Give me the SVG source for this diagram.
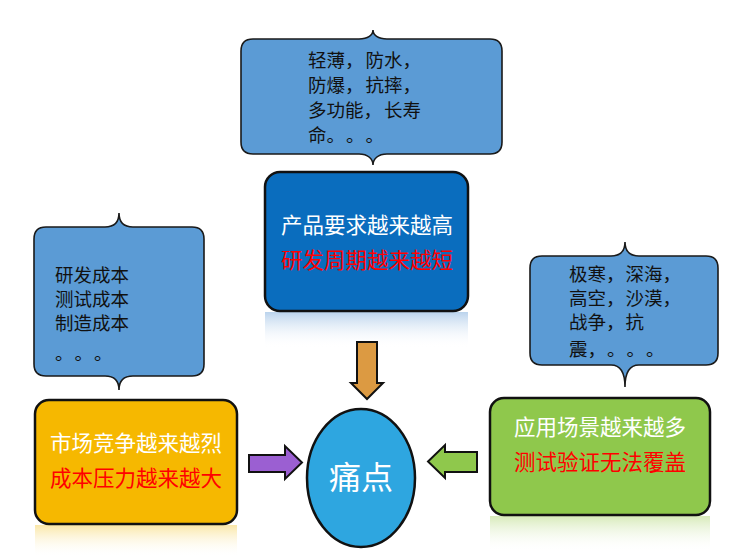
<svg xmlns="http://www.w3.org/2000/svg" width="747" height="557" viewBox="0 0 747 557">
<defs>
<style>
.callout{fill:#5B9BD5;stroke:#1a1a1a;stroke-width:1.6}
.ctext{font-family:"Noto Sans CJK SC","Noto Sans",sans-serif;font-size:18.5px;fill:#111;text-spacing-trim:space-all}
.box{stroke:#111;stroke-width:2.5}
.title{font-family:"Noto Sans CJK SC","Noto Sans",sans-serif;font-size:21.5px;text-anchor:middle}
.w{fill:#fff}
.r{fill:#ff0000}
.arrow{stroke:#111;stroke-width:2;stroke-linejoin:miter}
</style>
<linearGradient id="refBlue" x1="0" y1="0" x2="0" y2="1">
<stop offset="0" stop-color="#A9C8E8" stop-opacity="0.8"/>
<stop offset="1" stop-color="#ffffff" stop-opacity="0"/>
</linearGradient>
<linearGradient id="refYellow" x1="0" y1="0" x2="0" y2="1">
<stop offset="0" stop-color="#F8DC80" stop-opacity="0.7"/>
<stop offset="1" stop-color="#ffffff" stop-opacity="0"/>
</linearGradient>
<linearGradient id="refGreen" x1="0" y1="0" x2="0" y2="1">
<stop offset="0" stop-color="#CDE5A8" stop-opacity="0.8"/>
<stop offset="1" stop-color="#ffffff" stop-opacity="0"/>
</linearGradient>
</defs>
<rect width="747" height="557" fill="#fff"/>

<g id="callout-top">
<path class="callout" d="M253,39 L359,39 C368,39 373,35 373,30 C373,35 378,39 387,39 L490,39 Q502,39 502,51 L502,142 Q502,154 490,154 L387,154 C378,154 373,159 373,165 C373,159 368,154 359,154 L253,154 Q241,154 241,142 L241,51 Q241,39 253,39 Z"/>
<text class="ctext" x="308" y="67">轻薄，<tspan dx="2">防水，</tspan></text>
<text class="ctext" x="308" y="92">防爆，<tspan dx="2">抗摔，</tspan></text>
<text class="ctext" x="308" y="117">多功能，<tspan dx="2">长寿</tspan></text>
<text class="ctext" x="308" y="142">命。<tspan dx="1">。</tspan><tspan dx="1">。</tspan></text>
</g>

<g id="callout-left">
<path class="callout" d="M46,227 L105,227 C114,227 119,222 119,213 C119,222 124,227 133,227 L192,227 Q204,227 204,239 L204,364 Q204,376 192,376 L133,376 C124,376 119,381 119,390 C119,381 114,376 105,376 L46,376 Q34,376 34,364 L34,239 Q34,227 46,227 Z"/>
<text class="ctext" x="55" y="282">研发成本</text>
<text class="ctext" x="55" y="306">测试成本</text>
<text class="ctext" x="55" y="330">制造成本</text>
<text class="ctext" x="55" y="360">。<tspan dx="1">。</tspan><tspan dx="1">。</tspan></text>
</g>

<g id="callout-right">
<path class="callout" d="M542,256 L611,256 C620,256 625,251 625,242 C625,251 630,256 639,256 L706,256 Q718,256 718,268 L718,353 Q718,365 706,365 L639,365 C630,365 625,371 625,387 C625,371 620,365 611,365 L542,365 Q530,365 530,353 L530,268 Q530,256 542,256 Z"/>
<text class="ctext" x="569" y="281">极寒，<tspan dx="1">深海，</tspan></text>
<text class="ctext" x="569" y="305">高空，<tspan dx="1">沙漠，</tspan></text>
<text class="ctext" x="569" y="329">战争，<tspan dx="1">抗</tspan></text>
<text class="ctext" x="569" y="356">震，<tspan dx="1">。</tspan><tspan dx="1">。</tspan><tspan dx="1">。</tspan></text>
</g>

<g id="box-top">
<rect x="265" y="312" width="203" height="36" fill="url(#refBlue)"/>
<rect class="box" x="265" y="172" width="203" height="139" rx="15" fill="#0A6DBE"/>
<text class="title w" x="367" y="233">产品要求越来越高</text>
<text class="title r" x="367" y="268">研发周期越来越短</text>
</g>

<g id="box-left">
<rect x="35" y="525" width="202" height="32" fill="url(#refYellow)"/>
<rect class="box" x="35" y="400" width="202" height="124" rx="14" fill="#F6B800"/>
<text class="title w" x="136" y="451">市场竞争越来越烈</text>
<text class="title r" x="136" y="486">成本压力越来越大</text>
</g>

<g id="box-right">
<rect x="490" y="516" width="220" height="36" fill="url(#refGreen)"/>
<rect class="box" x="490" y="398" width="220" height="117" rx="14" fill="#8FC84C"/>
<text class="title w" x="600" y="435">应用场景越来越多</text>
<text class="title r" x="600" y="470">测试验证无法覆盖</text>
</g>

<g id="painpoint">
<ellipse cx="361" cy="478" rx="54" ry="69" fill="#2EA6E0" stroke="#111" stroke-width="2.5"/>
<text x="361" y="489" text-anchor="middle" font-family="'Noto Sans CJK SC','Noto Sans',sans-serif" font-size="32" fill="#fff">痛点</text>
</g>

<g id="connectors">
<path class="arrow" fill="#DC9A42" d="M357,342 L377,342 L377,383 L383,383 L367,399 L351,383 L357,383 Z"/>
<path class="arrow" fill="#9B5FD2" d="M249,455 L285,455 L285,446 L302,462.5 L285,479 L285,472 L249,472 Z"/>
<path class="arrow" fill="#8FC84C" d="M477,452 L445,452 L445,445 L428,461.5 L445,478 L445,472 L477,472 Z"/>
</g>
</svg>
